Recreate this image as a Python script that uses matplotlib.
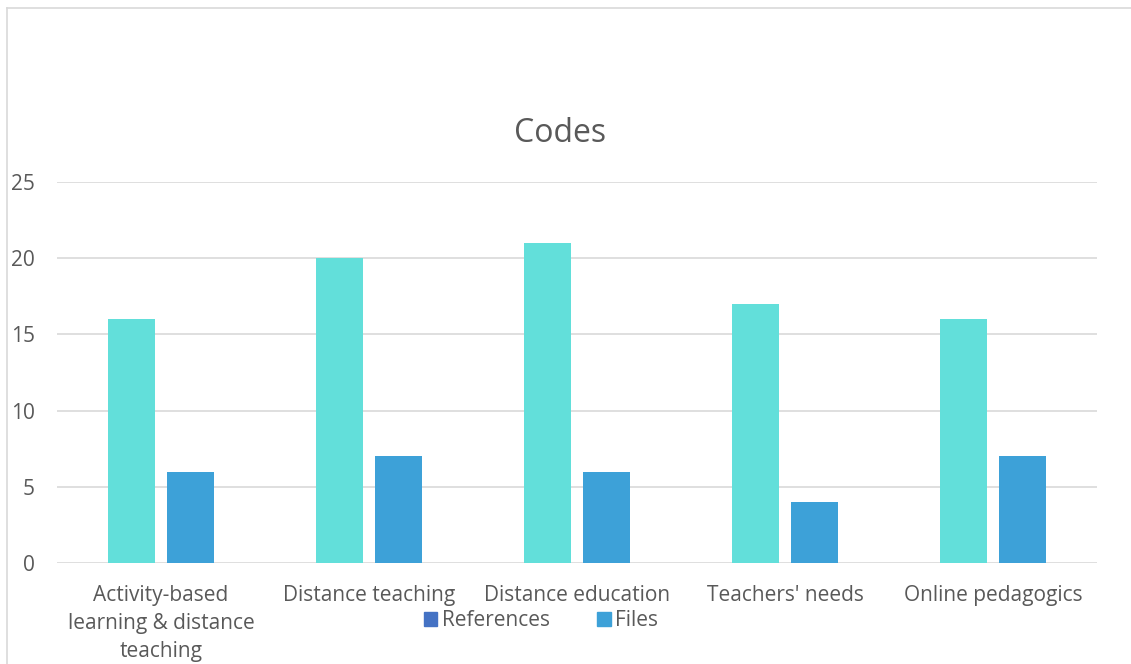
import matplotlib.pyplot as plt
import numpy as np
from matplotlib.lines import Line2D
from matplotlib.patches import Patch

categories = ["Activity-based\nlearning & distance\nteaching", "Distance teaching",
              "Distance education", "Teachers' needs", "Online pedagogics"]
references = [16, 20, 21, 17, 16]
files = [6, 7, 6, 4, 7]

plt.rcParams['font.family'] = ['Open Sans', 'DejaVu Sans']
txt = '#595959'

fig = plt.figure(figsize=(11.31, 6.64), dpi=100)
ax = fig.add_axes([57 / 1131, 101 / 664, 1040 / 1131, 381 / 664])

x = np.arange(len(categories))
w = 0.226
ax.bar(x - 0.142, references, w, color='#62DFDA', zorder=3)
ax.bar(x + 0.142, files, w, color='#3DA1D8', zorder=3)

ax.set_xlim(-0.5, len(categories) - 0.5)
ax.set_ylim(0, 25)
ax.set_yticks(range(0, 26, 5))
ax.yaxis.grid(True, color='#D9D9D9', linewidth=1.2, zorder=0)
for s in ax.spines.values():
    s.set_visible(False)
ax.tick_params(axis='both', length=0, labelsize=15, labelcolor=txt)
ax.tick_params(axis='y', pad=16)
ax.set_xticks(x)
ax.set_xticklabels(categories, linespacing=1.42, va='top')
ax.tick_params(axis='x', pad=16)

fig.text(560 / 1131, 1 - 133 / 664, "Codes", ha='center', va='center', fontsize=23, color=txt)

handles = [Patch(color='#4472C4'), Patch(color='#3DA1D8')]
fig.legend(handles, ["References", "Files"], loc='center', bbox_to_anchor=(541 / 1131, 1 - 621 / 664),
           ncol=2, frameon=False, fontsize=15, labelcolor=txt, handlelength=0.65, handleheight=0.65,
           handletextpad=0.2, columnspacing=2.3)

# outer chart border (top and left visible)
fig.add_artist(Line2D([7 / 1131, 1], [1 - 8 / 664, 1 - 8 / 664], color='#D9D9D9', lw=1.2))
fig.add_artist(Line2D([7 / 1131, 7 / 1131], [0, 1 - 8 / 664], color='#D9D9D9', lw=1.2))

fig.savefig("out.png", dpi=100)
